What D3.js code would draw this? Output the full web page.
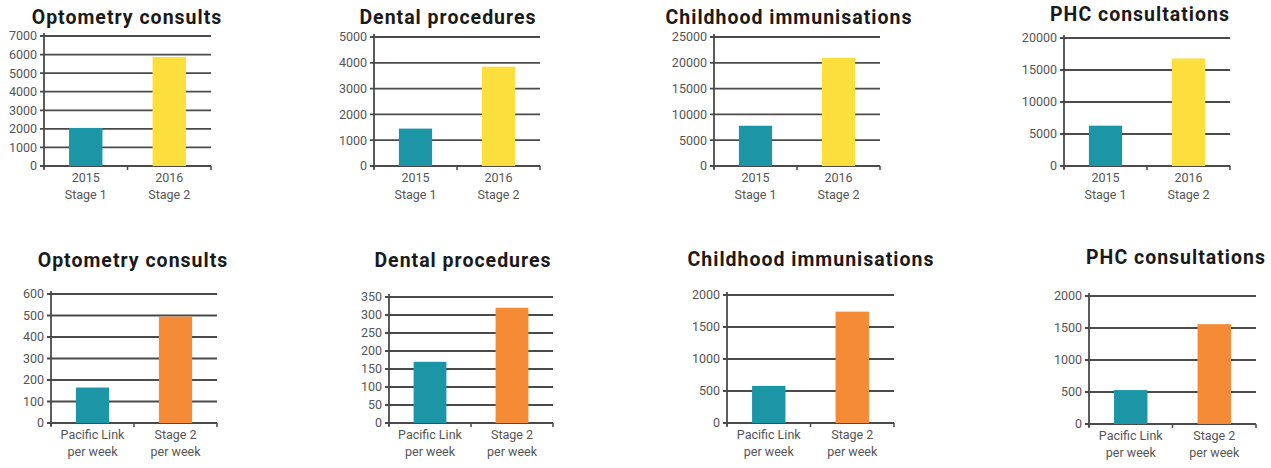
<!DOCTYPE html>
<html>
<head>
<meta charset="utf-8">
<script src="https://cdn.jsdelivr.net/npm/d3@7"></script>
<style>
  body { margin: 0; background: #fff; }
  svg { display: block; }
  .title { font-family: Roboto, sans-serif; font-weight: 700; font-size: 19.5px; letter-spacing: 1px; fill: #1a1a1a; }
  .tick-label { font-family: Roboto, sans-serif; font-size: 12.5px; fill: #555; }
  .cat-label { font-family: Roboto, sans-serif; font-size: 12.5px; fill: #555; }
</style>
</head>
<body>
<div id="chart"></div>
<script>
// ---- data ----
const titles = ["Optometry consults", "Dental procedures", "Childhood immunisations", "PHC consultations"];

const topCategories = [["2015", "Stage 1"], ["2016", "Stage 2"]];
const bottomCategories = [["Pacific Link", "per week"], ["Stage 2", "per week"]];

const topValues = [[2050, 5870], [1450, 3850], [7800, 20950], [6300, 16800]];
const topMax = [7000, 5000, 25000, 20000];
const topStep = [1000, 1000, 5000, 5000];

const bottomValues = [[165, 495], [170, 320], [580, 1740], [530, 1560]];
const bottomMax = [600, 350, 2000, 2000];
const bottomStep = [100, 50, 500, 500];

// ---- layout (pixel boxes for each panel) ----
const topLayout = [
    {left: 44, right: 211, top: 36, bottom: 166, tx: 127, ty: 24},
    {left: 374, right: 540, top: 37, bottom: 166, tx: 448, ty: 24},
    {left: 714, right: 880, top: 37, bottom: 166, tx: 789, ty: 24},
    {left: 1064, right: 1230, top: 38, bottom: 166, tx: 1140, ty: 21}
];
const bottomLayout = [
    {left: 51, right: 217, top: 294, bottom: 423, tx: 133, ty: 267},
    {left: 389, right: 553, top: 297, bottom: 423, tx: 463, ty: 267},
    {left: 727, right: 894, top: 295, bottom: 423, tx: 811, ty: 266},
    {left: 1089, right: 1256, top: 296, bottom: 424, tx: 1176, ty: 264}
];

const teal = "#1c96a6";
const yellow = "#fcdf3c";
const orange = "#f58a37";
const gridColor = "#4a4a4a";

const svg = d3.select("#chart").append("svg")
    .attr("width", 1271)
    .attr("height", 468);

function drawPanel(title, cats, values, maxV, step, box, colors) {
    let g = svg.append("g");

    let x = d3.scaleBand()
        .domain(cats.map(c => c.join(" ")))
        .range([box.left, box.right])
        .paddingInner(0.6)
        .paddingOuter(0.3);

    let y = d3.scaleLinear()
        .domain([0, maxV])
        .range([box.bottom, box.top]);

    let ticks = d3.range(0, maxV + step / 2, step);

    // gridlines
    g.selectAll(".grid")
        .data(ticks)
        .enter().append("line")
        .attr("x1", box.left - 4)
        .attr("x2", box.right)
        .attr("y1", d => y(d))
        .attr("y2", d => y(d))
        .attr("stroke", gridColor)
        .attr("stroke-width", 1.8);

    // y axis spine
    g.append("line")
        .attr("x1", box.left).attr("x2", box.left)
        .attr("y1", y(maxV) - 3).attr("y2", y(0) + 3)
        .attr("stroke", gridColor)
        .attr("stroke-width", 1.8);

    // y tick labels
    g.selectAll(".tick-label")
        .data(ticks)
        .enter().append("text")
        .attr("class", "tick-label")
        .attr("x", box.left - 7)
        .attr("y", d => y(d))
        .attr("dy", "0.35em")
        .attr("text-anchor", "end")
        .text(d => d);

    // x ticks at band edges
    let edges = [box.left + x.step() * 0, box.left + x.step(), box.left + x.step() * 2];
    g.selectAll(".xtick")
        .data(edges)
        .enter().append("line")
        .attr("x1", d => d).attr("x2", d => d)
        .attr("y1", y(0)).attr("y2", y(0) + 4)
        .attr("stroke", gridColor)
        .attr("stroke-width", 1.5);

    // bars
    g.selectAll(".bar")
        .data(values)
        .enter().append("rect")
        .attr("x", (d, i) => x(cats[i].join(" ")))
        .attr("width", x.bandwidth())
        .attr("y", d => y(d))
        .attr("height", d => y(0) - y(d))
        .attr("fill", (d, i) => colors[i]);

    // category labels (two lines)
    cats.forEach((c, i) => {
        let cx = x(c.join(" ")) + x.bandwidth() / 2;
        c.forEach((line, j) => {
            g.append("text")
                .attr("class", "cat-label")
                .attr("x", cx)
                .attr("y", y(0) + 16 + j * 17)
                .attr("text-anchor", "middle")
                .text(line);
        });
    });

    // title
    g.append("text")
        .attr("class", "title")
        .attr("x", box.tx)
        .attr("y", box.ty)
        .attr("text-anchor", "middle")
        .text(title);
}

for (let i = 0; i < 4; i++) {
    drawPanel(titles[i], topCategories, topValues[i], topMax[i], topStep[i], topLayout[i], [teal, yellow]);
    drawPanel(titles[i], bottomCategories, bottomValues[i], bottomMax[i], bottomStep[i], bottomLayout[i], [teal, orange]);
}
</script>
</body>
</html>
